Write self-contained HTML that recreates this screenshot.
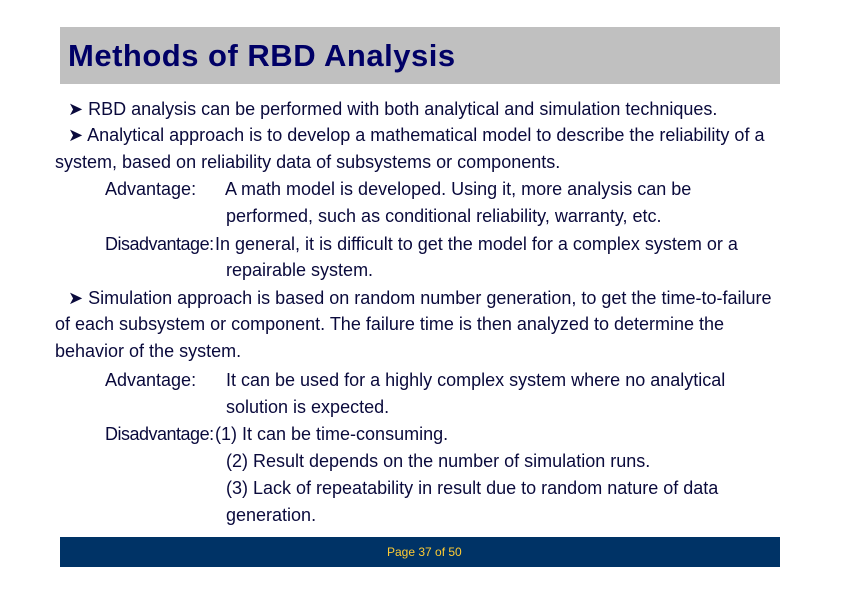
<!DOCTYPE html>
<html><head><style>
body{margin:0;width:842px;height:595px;background:#fff;position:relative;overflow:hidden;font-family:"Liberation Sans",Arial,sans-serif;}
.hd{position:absolute;left:60px;top:27px;width:720px;height:57px;background:#c0c0c0;}
.hd span{position:absolute;left:8px;top:11px;font-size:31px;font-weight:bold;color:#000066;letter-spacing:0.5px;}
.l{position:absolute;font-size:18px;color:#0a0a3c;white-space:nowrap;line-height:20px;}
.d{letter-spacing:-0.5px;}
.ft{position:absolute;left:60px;top:537px;width:720px;height:30px;background:#003366;}
.ft span{position:absolute;left:327px;top:8px;font-size:12px;color:#ffcc33;}
</style></head><body>
<div class="hd"><span>Methods of RBD Analysis</span></div>
<div class="l" style="left:68px;top:99px">&#10148; RBD analysis can be performed with both analytical and simulation techniques.</div>
<div class="l" style="left:68px;top:125px">&#10148; Analytical approach is to develop a mathematical model to describe the reliability of a</div>
<div class="l" style="left:55px;top:152px">system, based on reliability data of subsystems or components.</div>
<div class="l" style="left:105px;top:179px">Advantage:</div>
<div class="l" style="left:225px;top:179px">A math model is developed. Using it, more analysis can be</div>
<div class="l" style="left:226px;top:206px">performed, such as conditional reliability, warranty, etc.</div>
<div class="l d" style="left:105px;top:234px">Disadvantage:</div>
<div class="l" style="left:215px;top:234px">In general, it is difficult to get the model for a complex system or a</div>
<div class="l" style="left:226px;top:260px">repairable system.</div>
<div class="l" style="left:68px;top:288px">&#10148; Simulation approach is based on random number generation, to get the time-to-failure</div>
<div class="l" style="left:55px;top:314px">of each subsystem or component. The failure time is then analyzed to determine the</div>
<div class="l" style="left:55px;top:341px">behavior of the system.</div>
<div class="l" style="left:105px;top:370px">Advantage:</div>
<div class="l" style="left:226px;top:370px">It can be used for a highly complex system where no analytical</div>
<div class="l" style="left:226px;top:397px">solution is expected.</div>
<div class="l d" style="left:105px;top:424px">Disadvantage:</div>
<div class="l" style="left:215px;top:424px">(1) It can be time-consuming.</div>
<div class="l" style="left:226px;top:451px">(2) Result depends on the number of simulation runs.</div>
<div class="l" style="left:226px;top:478px">(3) Lack of repeatability in result due to random nature of data</div>
<div class="l" style="left:226px;top:505px">generation.</div>
<div class="ft"><span>Page 37 of 50</span></div>
</body></html>
